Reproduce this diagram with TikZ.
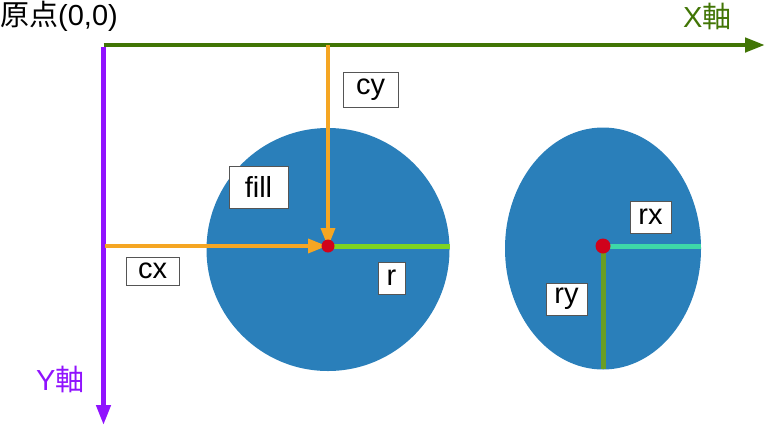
\documentclass[tikz,border=0pt]{standalone}
\usepackage{fontspec}
\setmainfont{Liberation Sans}
\newfontfamily\cjk{Noto Sans CJK JP}
\usetikzlibrary{arrows.meta}
\definecolor{cblue}{HTML}{2A7FBA}
\definecolor{corange}{HTML}{F5A623}
\definecolor{caxisx}{HTML}{417505}
\definecolor{caxisy}{HTML}{9013FE}
\definecolor{cred}{HTML}{D0021B}
\definecolor{clgreen}{HTML}{7ED321}
\definecolor{ccyan}{HTML}{3ED8A8}
\definecolor{colive}{HTML}{6A9E24}
\definecolor{cbox}{HTML}{555555}
\tikzset{
  lbl/.style={draw=cbox, line width=1pt, fill=white, inner sep=0pt, font=\fontsize{29}{29}\selectfont, anchor=center},
  axis/.style={line width=4.5pt, -{Triangle[length=20pt,width=14pt]}},
  guide/.style={line width=3.5pt, corange, -{Triangle[length=19pt,width=14pt]}},
  rad/.style={line width=5pt},
  axtxt/.style={anchor=west, inner sep=0pt, font=\fontsize{29}{29}\selectfont}
}
\begin{document}
\begin{tikzpicture}[x=1pt,y=-1pt]
\useasboundingbox (0,0) rectangle (765,426);
% shapes
\fill[cblue] (328,249.5) circle[radius=121.5];
\fill[cblue] (603,248.5) ellipse[x radius=98, y radius=121];
% coordinates
\coordinate (O) at (103.5,45);
\coordinate (Xend) at (765,45);
\coordinate (Yend) at (103.5,425);
\coordinate (C) at (328,246);
\coordinate (Ctop) at (328,45);
\coordinate (Cleft) at (105,246);
\coordinate (Cr) at (450,246);
\coordinate (E) at (603,246);
\coordinate (Erx) at (701,246);
\coordinate (Ery) at (603,369);
% axes
\draw[axis, caxisx] (O) -- (Xend);
\draw[axis, caxisy] ([yshift=-2pt]O) -- (Yend);
% radius lines
\draw[rad, clgreen] (C) -- (Cr);
\draw[rad, ccyan] (E) -- (Erx);
\draw[rad, colive] (E) -- (Ery);
% guides
\draw[guide] (Ctop) -- ([yshift=-1pt]C);
\draw[guide] (Cleft) -- ([xshift=-1pt]C);
% centres
\node[circle, fill=cred, minimum size=13pt, inner sep=0pt] (cdot) at (C) {};
\node[circle, fill=cred, minimum size=15pt, inner sep=0pt] (edot) at (E) {};
% labels
\node[lbl, minimum width=55pt, minimum height=35pt] (cy) at (370.5,89.5) {cy};
\node[lbl, minimum width=59pt, minimum height=42pt] (fill) at (258.5,187) {fill};
\node[lbl, minimum width=53pt, minimum height=28pt] (cx) at (152.5,271) {cx};
\node[lbl, minimum width=27pt, minimum height=32pt] (r) at (391.5,278) {r};
\node[lbl, minimum width=41pt, minimum height=32pt] (rx) at (650.5,217) {rx};
\node[lbl, minimum width=41pt, minimum height=32pt] (ry) at (566.5,299) {ry};
% axis texts
\node[axtxt] (orig) at (0,16) {{\cjk 原点}(0,0)};
\node[axtxt, text=caxisx] (xl) at (683,16) {X{\cjk 軸}};
\node[axtxt, text=caxisy] (yl) at (36,379) {Y{\cjk 軸}};
\end{tikzpicture}
\end{document}
